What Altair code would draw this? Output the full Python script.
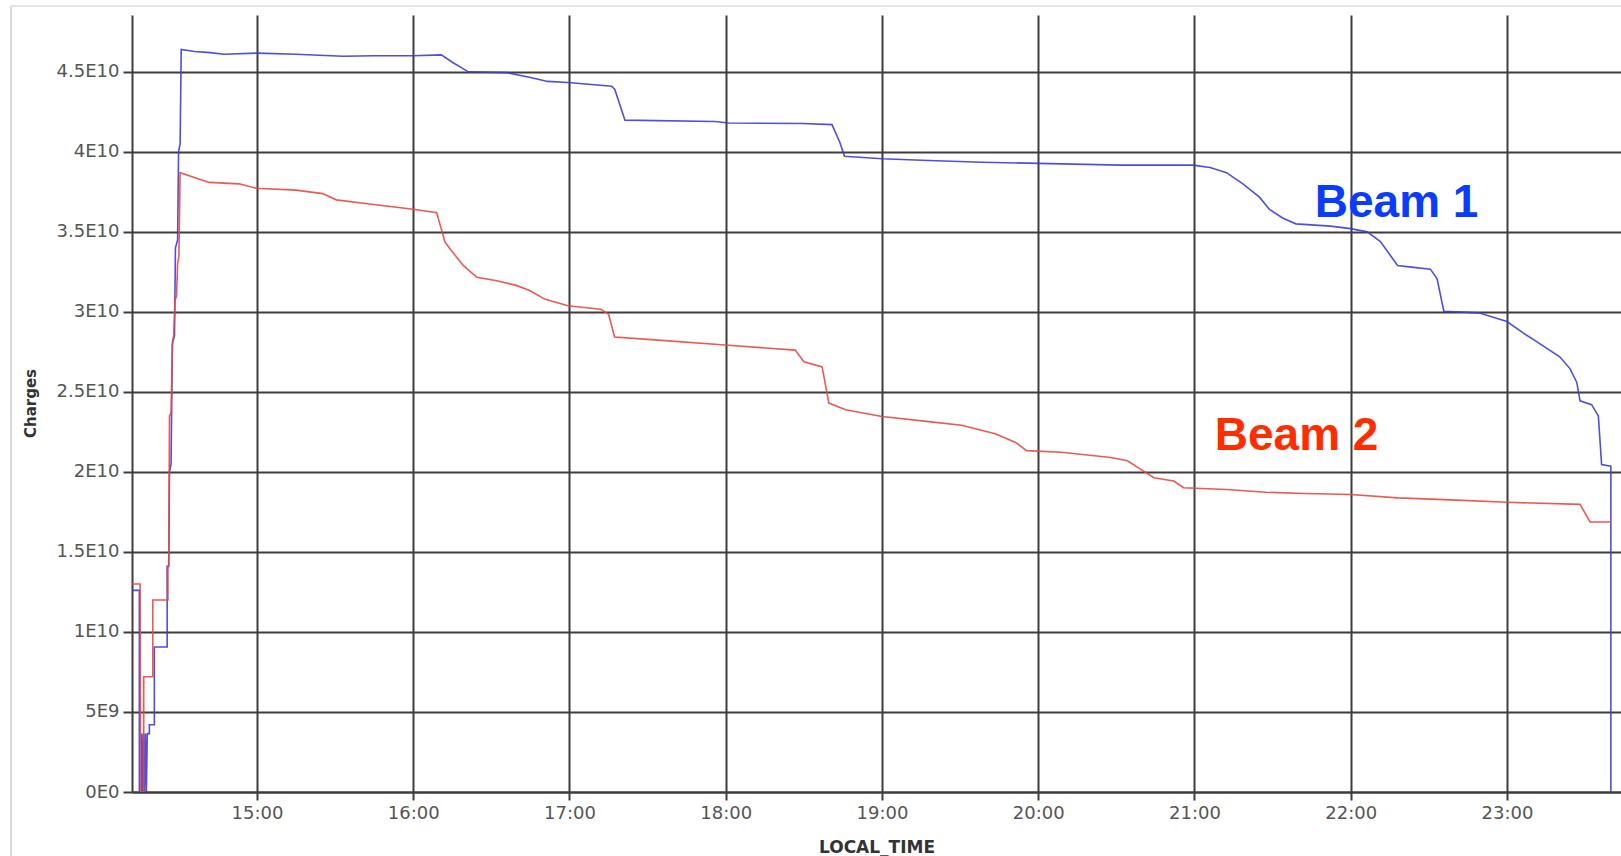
import altair as alt
import pandas as pd

# ---- data (time in hours of the day, charges in units of 1E10) ----
beam1_time = [14.20, 14.247, 14.247, 14.262, 14.262, 14.268, 14.274, 14.280, 14.286, 14.292,
              14.298, 14.311, 14.311, 14.343, 14.343, 14.425, 14.425, 14.435, 14.440, 14.450,
              14.458, 14.472, 14.478, 14.492, 14.498, 14.508, 14.515, 14.60, 14.70, 14.79,
              15.0, 15.25, 15.55, 15.75, 16.0, 16.18, 16.25, 16.353, 16.60, 16.75,
              16.86, 16.99, 17.27, 17.29, 17.355, 17.93, 18.02, 18.49, 18.68, 18.73,
              18.76, 19.0, 19.30, 19.64, 20.0, 20.53, 20.99, 21.10, 21.205, 21.31,
              21.416, 21.48, 21.564, 21.649, 21.87, 22.0, 22.106, 22.19, 22.30, 22.36,
              22.51, 22.553, 22.596, 22.819, 23.0, 23.106, 23.19, 23.34, 23.404, 23.447,
              23.468, 23.542, 23.585, 23.606, 23.665, 23.665]
beam1_charge = [1.26, 1.26, 0.0, 0.0, 0.365, 0.0, 0.365, 0.0, 0.365, 0.0,
                0.365, 0.365, 0.42, 0.42, 0.906, 0.906, 1.41, 1.41, 2.0, 2.05,
                2.8, 2.85, 3.4, 3.45, 4.0, 4.05, 4.64, 4.627, 4.62, 4.61,
                4.617, 4.61, 4.597, 4.60, 4.60, 4.606, 4.56, 4.50, 4.495, 4.465,
                4.44, 4.433, 4.41, 4.39, 4.198, 4.19, 4.18, 4.177, 4.17, 4.06,
                3.972, 3.957, 3.946, 3.935, 3.928, 3.917, 3.917, 3.902, 3.87, 3.80,
                3.717, 3.64, 3.587, 3.55, 3.536, 3.52, 3.50, 3.439, 3.29, 3.283,
                3.267, 3.206, 3.004, 2.994, 2.94, 2.867, 2.814, 2.718, 2.644, 2.559,
                2.444, 2.42, 2.35, 2.046, 2.036, 0.0]

beam2_time = [14.20, 14.252, 14.255, 14.275, 14.275, 14.333, 14.333, 14.430, 14.430, 14.435,
              14.440, 14.450, 14.460, 14.467, 14.475, 14.485, 14.492, 14.500, 14.508, 14.608,
              14.694, 14.886, 14.994, 15.25, 15.42, 15.507, 15.72, 16.0, 16.15, 16.203,
              16.235, 16.32, 16.407, 16.535, 16.664, 16.749, 16.84, 16.99, 17.2, 17.25,
              17.289, 17.546, 17.996, 18.445, 18.50, 18.617, 18.66, 18.767, 19.0, 19.30,
              19.51, 19.725, 19.852, 19.926, 20.148, 20.465, 20.571, 20.655, 20.74, 20.867,
              20.93, 21.205, 21.459, 21.70, 22.0, 22.30, 22.68, 23.0, 23.468, 23.532,
              23.665]
beam2_charge = [1.30, 1.30, 0.0, 0.0, 0.72, 0.72, 1.20, 1.20, 1.40, 1.42,
                2.35, 2.37, 2.82, 2.85, 3.07, 3.10, 3.30, 3.35, 3.87, 3.837,
                3.809, 3.80, 3.772, 3.761, 3.739, 3.70, 3.674, 3.641, 3.62, 3.437,
                3.395, 3.29, 3.216, 3.195, 3.164, 3.132, 3.08, 3.038, 3.017, 2.985,
                2.843, 2.825, 2.793, 2.761, 2.688, 2.656, 2.43, 2.388, 2.346, 2.314,
                2.292, 2.239, 2.186, 2.133, 2.123, 2.09, 2.07, 2.017, 1.964, 1.943,
                1.901, 1.89, 1.873, 1.865, 1.859, 1.838, 1.824, 1.81, 1.797, 1.687,
                1.687]

series_names = ["Beam 1", "Beam 2"]
series_colors = ["#3b3bdc", "#e8473f"]
label_colors = ["#0a3cff", "#ff2d00"]
label_time = [21.77, 21.13]
label_charge = [3.59, 2.136]

hour_ticks = [15, 16, 17, 18, 19, 20, 21, 22, 23]
charge_ticks = [0, 5000000000, 10000000000, 15000000000, 20000000000,
                25000000000, 30000000000, 35000000000, 40000000000, 45000000000]
x_domain = [14.2, 23.73]
y_domain = [0, 48550000000]

# ---- tables ----
rows = []
for name, ts, vs in [("Beam 1", beam1_time, beam1_charge), ("Beam 2", beam2_time, beam2_charge)]:
    for i, (t, v) in enumerate(zip(ts, vs)):
        rows.append({"series": name, "idx": i, "time": t, "charges": v * 1e10})
df = pd.DataFrame(rows)

labels = pd.DataFrame({
    "series": series_names,
    "time": label_time,
    "charges": [v * 1e10 for v in label_charge],
})

grid_col = "#3d3d3d"
x_scale = alt.Scale(domain=x_domain, nice=False, zero=False)
y_scale = alt.Scale(domain=y_domain, nice=False, zero=False)

x_axis = alt.Axis(
    values=hour_ticks, labelExpr="datum.value + ':00'", title="LOCAL_TIME",
    grid=True, gridColor=grid_col, gridWidth=2, gridOpacity=1,
    domainColor=grid_col, domainWidth=2, tickColor=grid_col, tickWidth=2, tickSize=8,
    labelFont="DejaVu Sans", labelFontSize=18, labelColor="#555555", labelPadding=4,
    titleFont="DejaVu Sans", titleFontSize=17, titleFontWeight="bold", titleColor="#333333",
    titleY=55, titleBaseline="middle",
)
y_axis = alt.Axis(
    values=charge_ticks,
    labelExpr="datum.value == 0 ? '0E0' : (datum.value < 1e10 ? (datum.value / 1e9) + 'E9' : (datum.value / 1e10) + 'E10')",
    title="Charges",
    grid=True, gridColor=grid_col, gridWidth=2, gridOpacity=1,
    domainColor=grid_col, domainWidth=2, tickColor=grid_col, tickWidth=2, tickSize=9,
    labelFont="DejaVu Sans", labelFontSize=18, labelColor="#555555", labelPadding=4,
    titleFont="DejaVu Sans", titleFontSize=15, titleFontWeight="bold", titleColor="#333333",
    titleX=-102, titleY=388, titleAngle=270, titleAlign="center", titleBaseline="middle",
)

lines = alt.Chart(df).mark_line(strokeWidth=1.6, clip=True, opacity=0.9).encode(
    x=alt.X("time:Q", scale=x_scale, axis=x_axis),
    y=alt.Y("charges:Q", scale=y_scale, axis=y_axis),
    color=alt.Color("series:N", scale=alt.Scale(domain=series_names, range=series_colors), legend=None),
    order=alt.Order("idx:Q"),
    detail="series:N",
)

texts = alt.Chart(labels).mark_text(
    font="Liberation Sans", fontSize=46, fontWeight="bold", align="left", baseline="alphabetic"
).encode(
    x=alt.X("time:Q", scale=x_scale),
    y=alt.Y("charges:Q", scale=y_scale),
    text="series:N",
    color=alt.Color("series:N", scale=alt.Scale(domain=series_names, range=label_colors), legend=None),
)

# light screenshot frame (left and top edge)
frame_v = alt.Chart(pd.DataFrame({"k": [0]})).mark_rule(color="#d8d8d8", strokeWidth=2).encode(
    x=alt.value(-121), y=alt.value(-9), y2=alt.value(841)
)
frame_h = alt.Chart(pd.DataFrame({"k": [0]})).mark_rule(color="#e4e4e4", strokeWidth=2).encode(
    x=alt.value(-121), x2=alt.value(1489), y=alt.value(-9)
)

chart = alt.layer(frame_v, frame_h, lines, texts).resolve_scale(color="independent").properties(
    width=1489, height=777,
    autosize=alt.AutoSizeParams(type="none"),
    padding={"left": 132, "top": 15, "right": 0, "bottom": 64},
    background="white",
).configure_view(strokeWidth=0)

chart.save("out.html", embed_options={"renderer": "svg", "actions": False})
